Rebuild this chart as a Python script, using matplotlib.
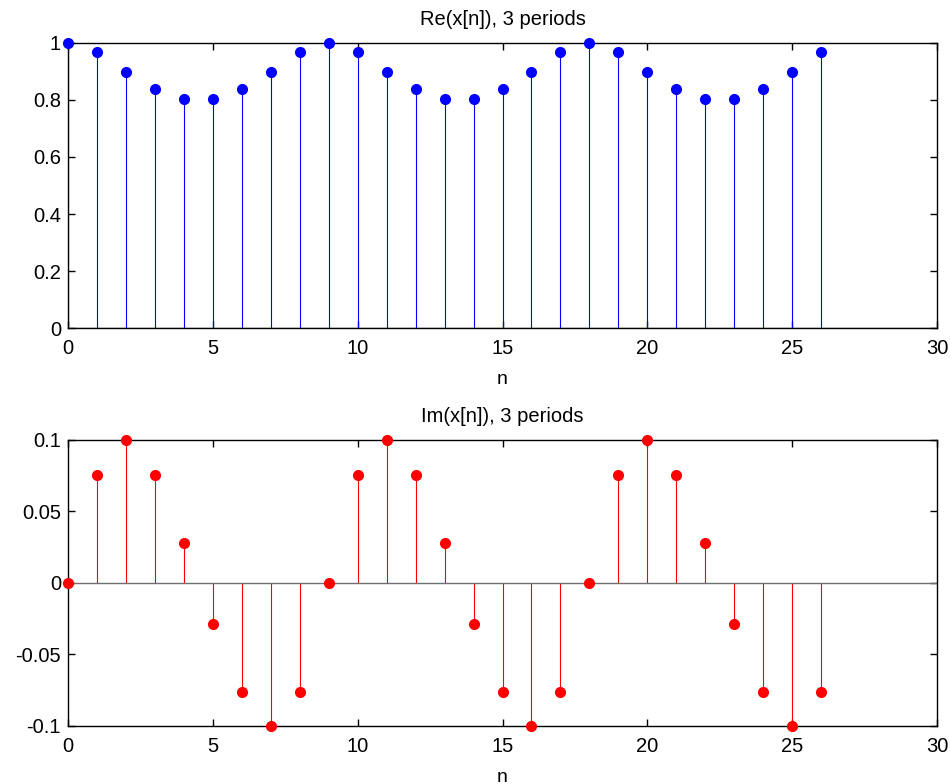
import matplotlib
matplotlib.use("Agg")
import matplotlib.pyplot as plt
import numpy as np

n = list(range(27))
re_period = [1.0, 0.969, 0.899, 0.837, 0.802, 0.802, 0.837, 0.899, 0.969]
im_period = [0.0, 0.0758, 0.1, 0.0758, 0.0278, -0.0284, -0.0762, -0.1, -0.0762]
re_vals = re_period * 3
im_vals = im_period * 3

title_top = "Re(x[n]), 3 periods"
title_bot = "Im(x[n]), 3 periods"
xlabel = "n"
xticks = [0, 5, 10, 15, 20, 25, 30]
yticks_top = [0, 0.2, 0.4, 0.6, 0.8, 1]
yticks_top_lbl = ["0", "0.2", "0.4", "0.6", "0.8", "1"]
yticks_bot = [-0.1, -0.05, 0, 0.05, 0.1]
yticks_bot_lbl = ["-0.1", "-0.05", "0", "0.05", "0.1"]

plt.rcParams['font.family'] = ['Liberation Sans', 'DejaVu Sans']

fig = plt.figure(figsize=(9.5, 7.84), dpi=100)
ax1 = fig.add_axes([0.0716, 0.5812, 0.9147, 0.3643])
ax2 = fig.add_axes([0.0716, 0.0740, 0.9147, 0.3648])


def style(ax, vals, color, ylim, yt, ytl, title):
    ml, sl, bl = ax.stem(n, vals, basefmt='-')
    plt.setp(sl, color=color, linewidth=0.8)
    plt.setp(ml, color=color, marker='o', markersize=7, markerfacecolor=color,
             markeredgecolor=color, clip_on=False, zorder=4)
    plt.setp(bl, color='#707070', linewidth=1.0)
    bl.set_xdata([0, 30])
    ax.set_xlim(0, 30)
    ax.set_ylim(*ylim)
    ax.set_xticks(xticks)
    ax.set_xticklabels([str(t) for t in xticks])
    ax.set_yticks(yt)
    ax.set_yticklabels(ytl)
    ax.tick_params(direction='in', top=True, right=True, labelsize=14.5,
                   length=5, width=1)
    ax.tick_params(axis='x', pad=8)
    ax.tick_params(axis='y', pad=5)
    for s in ax.spines.values():
        s.set_linewidth(1.0)
        s.set_color('black')
    ax.set_title(title, fontsize=14.5, pad=13)
    ax.set_xlabel(xlabel, fontsize=14, labelpad=9)


style(ax1, re_vals, 'blue', (0, 1), yticks_top, yticks_top_lbl, title_top)
style(ax2, im_vals, 'red', (-0.1, 0.1), yticks_bot, yticks_bot_lbl, title_bot)

fig.savefig("out.png", dpi=100)
